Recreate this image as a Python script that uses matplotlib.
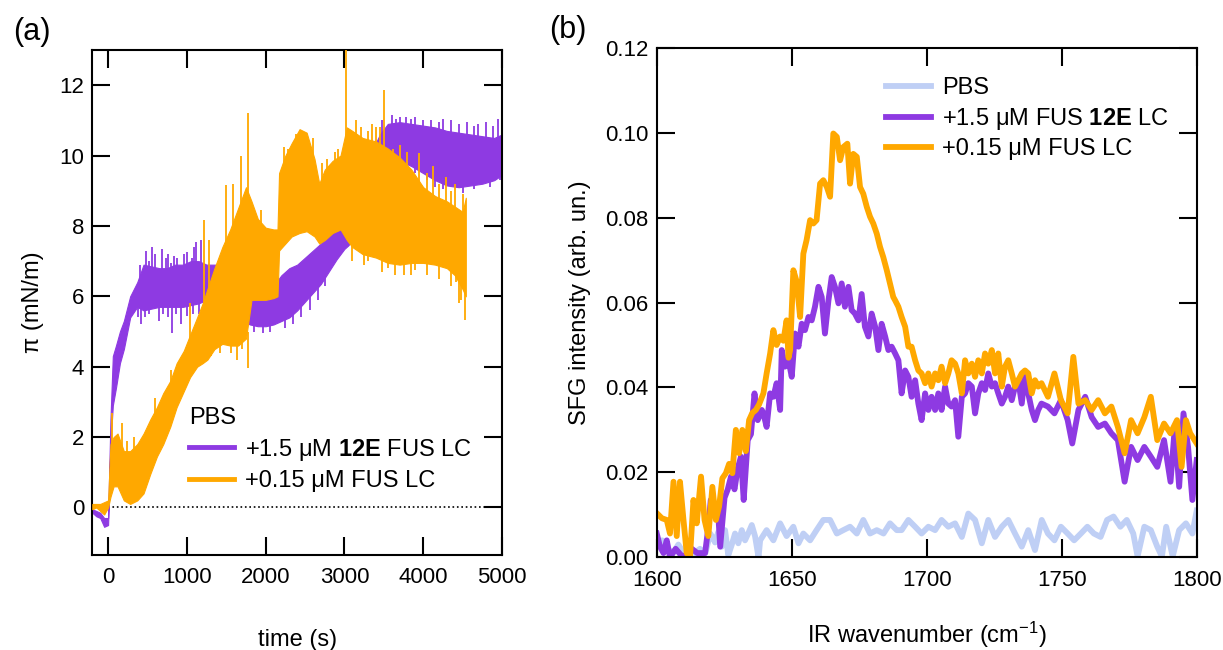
import numpy as np
import matplotlib
matplotlib.use("Agg")
import matplotlib.pyplot as plt

plt.rcParams["font.family"] = ["Liberation Sans", "DejaVu Sans"]
plt.rcParams["mathtext.fontset"] = "custom"
plt.rcParams["mathtext.rm"] = "Liberation Sans"
plt.rcParams["mathtext.bf"] = "Liberation Sans:bold"
plt.rcParams["mathtext.it"] = "Liberation Sans:italic"

PURPLE = "#8E3AE2"
ORANGE = "#FFA800"
LIGHTBLUE = "#BFCFF5"

# ---- panel (a): surface pressure vs time, noisy traces as (low, high) envelopes ----
t_purple = [-200, -150, -100, -50, 0, 30, 60, 100, 150, 200, 280, 370, 450, 550, 650, 750,
            850, 950, 1050, 1150, 1250, 1400, 1500, 1600, 1700, 1800, 1900, 2000, 2100, 2200,
            2300, 2400, 2500, 2600, 2700, 2800, 2900, 3000, 3050, 3150, 3300, 3450, 3550, 3700,
            3850, 4000, 4150, 4300, 4450, 4600, 4750, 4900, 5000]
lo_purple = [-0.15, -0.25, -0.3, -0.55, -0.5, 1.8, 2.9, 3.4, 4.1, 4.5, 5.4, 5.7, 5.6, 5.65, 5.7, 5.7,
             5.7, 5.7, 5.75, 5.8, 5.9, 5.8, 5.7, 5.5, 5.3, 5.2, 5.15, 5.15, 5.2, 5.3,
             5.4, 5.6, 5.85, 6.1, 6.35, 6.7, 7.05, 7.35, 7.45, 7.8, 8.6, 9.5, 9.8, 9.85,
             9.7, 9.5, 9.3, 9.15, 9.1, 9.15, 9.2, 9.3, 9.45]
hi_purple = [-0.05, -0.1, -0.15, -0.3, -0.3, 2.5, 4.3, 4.6, 5.0, 5.3, 6.0, 6.4, 6.9, 6.85, 6.8, 6.8,
             6.9, 6.9, 7.0, 7.0, 6.9, 6.9, 6.6, 6.3, 6.1, 6.1, 6.2, 6.2, 6.3, 6.6,
             6.8, 6.9, 7.1, 7.3, 7.5, 7.8, 8.1, 8.3, 8.4, 9.0, 9.9, 10.6, 10.9, 10.95,
             10.9, 10.85, 10.8, 10.7, 10.65, 10.6, 10.55, 10.5, 10.6]

t_orange = [-200, -150, -100, -50, 0, 30, 70, 120, 200, 280, 370, 450, 535, 620, 700, 790,
            870, 960, 1040, 1130, 1200, 1260, 1350, 1450, 1550, 1650, 1750, 1820, 1900, 2000,
            2100, 2150, 2170, 2250, 2330, 2430, 2520, 2620, 2680, 2750, 2850, 2950, 3030, 3100,
            3230, 3400, 3550, 3700, 3850, 4000, 4150, 4300, 4400, 4500, 4540]
lo_orange = [-0.05, 0.0, -0.1, -0.2, 0.0, 0.3, 0.6, 0.6, 0.2, 0.1, 0.2, 0.4, 0.95, 1.45, 1.8, 2.3,
             2.85, 3.3, 3.7, 4.0, 4.1, 4.2, 4.5, 4.65, 4.6, 4.6, 4.8, 5.9, 5.9, 5.9,
             5.95, 6.0, 7.3, 7.5, 7.7, 7.8, 7.85, 7.7, 7.5, 7.6, 7.8, 7.9, 7.6, 7.4,
             7.2, 7.1, 6.95, 6.9, 6.95, 6.95, 6.9, 6.8, 6.6, 6.2, 6.0]
hi_orange = [0.1, 0.1, 0.1, 0.15, 0.2, 1.8, 2.0, 2.1, 1.6, 1.6, 1.8, 2.1, 2.5, 2.85, 3.25, 3.6,
             4.1, 4.45, 4.9, 5.4, 5.8, 6.2, 6.8, 7.4, 7.9, 8.5, 9.1, 8.7, 8.2, 7.95,
             7.9, 7.9, 9.5, 10.0, 10.35, 10.75, 10.65, 9.9, 9.2, 9.6, 9.85, 10.0, 10.8, 10.7,
             10.5, 10.4, 10.2, 9.95, 9.6, 9.1, 8.85, 8.7, 8.55, 8.4, 8.8]

# isolated excursions of the noisy traces (time, start, end)
spike_t_purple = [380, 400, 420, 470, 480, 520, 520, 560, 600, 640, 690, 700, 730, 760, 760, 800,
                  810, 840, 860, 880, 920, 960, 1000, 1000, 1060, 1080, 1090, 1120, 1150, 1180,
                  1850, 1960, 2050, 2250, 2350, 2450, 2560, 2660, 2750,
                  3480, 3600, 3600, 3650, 3700, 3750, 3780, 3850, 3900, 3900, 4000, 4050, 4100,
                  4150, 4200, 4250, 4250, 4350, 4450, 4500, 4550, 4650, 4650, 4700, 4800, 4850,
                  4880, 4950, 4980]
spike_from_purple = [6.0, 6.2, 6.0, 6.0, 6.0, 6.2, 6.0, 6.0, 6.2, 6.0, 6.0, 6.0, 6.2, 6.0, 6.0,
                     6.2, 6.0, 6.2, 6.0, 6.0, 6.0, 6.2, 6.0, 6.0, 6.2, 6.0, 6.2, 6.0, 6.0, 6.0,
                     6.0, 5.5, 5.5, 6.0, 6.0, 6.2, 6.4, 6.7, 7.0,
                     10.5, 10.5, 10.0, 10.5, 10.5, 10.0, 10.5, 10.5, 10.0, 10.5, 10.5, 10.0, 10.4,
                     10.0, 10.4, 10.0, 10.4, 10.3, 10.3, 10.0, 10.3, 10.0, 10.3, 10.3, 10.2, 10.0,
                     10.2, 10.2, 10.0]
spike_to_purple = [5.4, 6.9, 5.2, 5.4, 7.3, 7.0, 5.5, 7.4, 7.2, 5.3, 7.35, 5.5, 7.1, 7.2, 5.4,
                   6.95, 4.95, 7.15, 5.5, 7.1, 5.2, 7.2, 7.25, 5.45, 7.1, 5.5, 7.4, 7.55, 5.5, 7.6,
                   5.0, 4.95, 5.0, 5.1, 5.2, 5.4, 5.6, 5.9, 6.3,
                   11.0, 11.15, 9.6, 11.05, 11.1, 9.65, 11.1, 11.05, 9.5, 11.1, 11.0, 9.3, 11.0,
                   9.1, 10.95, 9.05, 11.05, 11.0, 10.9, 8.95, 10.95, 9.05, 10.85, 10.9, 10.95, 9.1,
                   10.85, 11.05, 9.3]

spike_t_orange = [50, 180, 240, 330, 600, 800, 1040, 1220, 1280, 1300, 1420, 1500, 1560, 1590,
                  1640, 1690, 1700, 1770, 1780, 1935, 2230, 2280, 2380, 2600, 2720, 2780, 2880,
                  2920, 3025, 3100, 3150, 3215, 3250, 3300, 3300, 3350, 3400, 3450, 3480, 3500,
                  3550, 3620, 3640, 3700, 3760, 3800, 3850, 3900, 3950, 4050, 4050, 4130, 4200,
                  4200, 4290, 4350, 4350, 4400, 4420, 4460, 4480, 4500, 4530]
spike_from_orange = [1.0, 1.0, 1.0, 1.0, 2.0, 3.0, 4.5, 5.0, 5.0, 5.0, 5.5, 6.5, 5.0, 6.5,
                     5.0, 7.0, 5.5, 7.0, 5.0, 7.0, 8.5, 9.0, 9.0, 9.0, 9.0, 9.0, 9.0,
                     9.0, 9.0, 7.5, 9.0, 9.0, 7.5, 9.0, 7.5, 9.0, 9.0, 9.0, 7.5, 9.0,
                     7.5, 9.0, 7.5, 9.0, 7.5, 9.0, 7.5, 7.5, 8.5, 8.5, 7.5, 8.0, 8.0,
                     7.5, 8.0, 8.0, 7.3, 8.0, 7.2, 7.0, 7.0, 8.0, 7.0]
spike_to_orange = [2.68, 2.4, 1.9, 2.0, 3.1, 3.9, 5.8, 8.16, 7.6, 4.3, 4.4, 9.16, 4.38, 9.2,
                   4.2, 10.0, 4.5, 11.2, 3.96, 8.45, 10.24, 10.2, 10.6, 10.5, 9.8, 9.9, 10.1,
                   10.2, 13.0, 7.0, 11.0, 10.8, 6.9, 10.7, 7.0, 10.9, 10.8, 10.8, 6.7, 11.86,
                   6.8, 10.2, 6.6, 10.3, 6.6, 10.1, 6.6, 6.75, 10.06, 9.5, 6.6, 9.7, 9.2,
                   6.5, 9.4, 9.0, 6.3, 9.2, 6.4, 5.8, 5.9, 8.9, 5.32]

# ---- panel (b): SFG spectra ----
wn_orange = [1600, 1601.9, 1603.7, 1604.9, 1606.2, 1607.4, 1608.6, 1609.9, 1611.1, 1612.3, 1613.6,
             1614.8, 1616.4, 1617.7, 1619.1, 1620.6, 1621.9, 1623.1, 1624.3, 1625.6, 1626.8, 1628,
             1629.3, 1630.5, 1631.7, 1633, 1634.2, 1635.4, 1636.7, 1637.9, 1639.5, 1640.7, 1642,
             1643.2, 1644.4, 1645.7, 1646.9, 1648.1, 1648.8, 1649.4, 1650.6, 1651.8, 1653.1,
             1654.3, 1655.5, 1656.8, 1658, 1659.2, 1660.5, 1661.7, 1663, 1664.2, 1665.4, 1666.7,
             1667.9, 1669.1, 1670.6, 1671.6, 1672.8, 1674.1, 1675.3, 1676.5, 1677.8, 1679,
             1680.2, 1681.5, 1682.7, 1683.9, 1685.2, 1686.4, 1687.6, 1688.3, 1689.5, 1690.7,
             1692, 1693.2, 1694.4, 1695.7, 1696.9, 1698.1, 1699.4, 1700.6, 1701.8, 1703.1,
             1704.3, 1705.5, 1706.8, 1708, 1709.2, 1710.5, 1711.7, 1713, 1714.2, 1715.4, 1716.7,
             1717.9, 1719.1, 1720.4, 1721.6, 1722.8, 1724.1, 1725.3, 1726.5, 1727.8, 1729,
             1730.2, 1731.5, 1732.7, 1733.9, 1735.2, 1736.4, 1737.6, 1738.9, 1740.1, 1741.3,
             1742.5, 1744.9, 1747.3, 1749.7, 1752.2, 1754.3, 1756.2, 1758.7, 1761.1, 1763.5,
             1766, 1768.4, 1770.8, 1773.3, 1775.7, 1778.1, 1780.6, 1783, 1785.4, 1787.9, 1790.3,
             1792.7, 1794.4, 1796, 1797.6, 1800]
sfg_orange = [0.0104, 0.0092, 0.0088, 0.0056, 0.0178, 0.005, 0.0178, 0.0088, 0.001, 0.0, 0.0135,
              0.008, 0.019, 0.0088, 0.005, 0.0166, 0.0088, 0.012, 0.0186, 0.0198, 0.022, 0.0198,
              0.030, 0.0245, 0.030, 0.025, 0.0323, 0.034, 0.0347, 0.036, 0.0386, 0.0433, 0.048,
              0.0535, 0.050, 0.052, 0.051, 0.0558, 0.047, 0.0488, 0.0676, 0.065, 0.0566,
              0.0715, 0.0747, 0.0794, 0.0786, 0.0794, 0.088, 0.0888, 0.0872, 0.0849, 0.0998, 0.099,
              0.0935, 0.0966, 0.0974, 0.088, 0.095, 0.0943, 0.0872, 0.0856, 0.0825, 0.0802,
              0.0786, 0.0762, 0.0731, 0.0707, 0.0676, 0.0645, 0.0613, 0.0605, 0.059, 0.0566,
              0.0543, 0.0496, 0.0496, 0.0464, 0.044, 0.0433, 0.041, 0.0433, 0.0402, 0.0433,
              0.0417, 0.0449, 0.041, 0.0433, 0.0464, 0.0456, 0.0433, 0.0386, 0.0464, 0.0433, 0.0456,
              0.0425, 0.0464, 0.0433, 0.048, 0.0456, 0.0488, 0.0433, 0.048, 0.0402, 0.0449,
              0.0464, 0.0433, 0.0402, 0.0417, 0.0433, 0.044, 0.0433, 0.0386, 0.0417, 0.0402,
              0.041, 0.0378, 0.0433, 0.037, 0.0339, 0.0472, 0.0362, 0.037, 0.0347, 0.037,
              0.0339, 0.0355, 0.0307, 0.0245, 0.0323, 0.0292, 0.033, 0.0378, 0.0276, 0.0315, 0.0292,
              0.0323, 0.0213, 0.0323, 0.0292, 0.0268]

wn_purple = [1600, 1601.2, 1602.5, 1603.7, 1604.9, 1607, 1609, 1611.7, 1613, 1615, 1617.9, 1619.1,
             1620, 1621.4, 1622.6, 1623.5, 1625.1, 1626.3, 1627.5, 1628.8, 1630, 1631.2, 1632.2,
             1633.7, 1634.9, 1636.2, 1637.4, 1638.9, 1639.5, 1640.7, 1642, 1643.2, 1644.4,
             1645.7, 1646.3, 1647.5, 1648.8, 1650, 1651.2, 1652.5, 1653.7, 1654.9, 1656.2,
             1657.4, 1658.6, 1659.9, 1661.1, 1662.3, 1663.6, 1664.8, 1666, 1667.3, 1668.5,
             1669.7, 1671, 1672.2, 1673.4, 1674.7, 1675.9, 1677.1, 1678.4, 1679.6, 1680.9,
             1682.1, 1683.3, 1684.6, 1685.8, 1687, 1688.3, 1689.5, 1690.7, 1692, 1693.2, 1694.4,
             1695.7, 1696.9, 1698.1, 1699.4, 1700.6, 1701.8, 1703.1, 1704.3, 1705.5, 1706.8,
             1708, 1709.2, 1710.5, 1711.7, 1713, 1714.2, 1715.4, 1716.7, 1717.9, 1719.1, 1720.4,
             1721.6, 1722.8, 1724.1, 1725.3, 1726.5, 1727.8, 1729, 1730.2, 1731.5, 1732.7,
             1733.9, 1735.2, 1736.4, 1737.6, 1738.9, 1740.1, 1741.3, 1742.5, 1744.9, 1747.3,
             1749.7, 1752.2, 1753.9, 1756.2, 1758.7, 1761.1, 1763.5, 1766, 1768.4, 1770.8,
             1773.3, 1775.7, 1778.1, 1780.6, 1783, 1785.4, 1787.9, 1790.3, 1791.9, 1793.5,
             1795.1, 1796.8, 1798.4, 1800]
sfg_purple = [0.0056, 0.0025, 0.001, 0.004, 0.0, 0.002, 0.0005, 0.0, 0.002, 0.001, 0.001, 0.007,
              0.0135, 0.010, 0.012, 0.0025, 0.014, 0.016, 0.019, 0.016, 0.021, 0.0237, 0.0135,
              0.0276, 0.029, 0.0386, 0.0323, 0.0347, 0.0339, 0.0307, 0.0386, 0.0378, 0.041,
              0.0347, 0.0488, 0.0449, 0.0464, 0.0425, 0.0527, 0.0496, 0.055, 0.0535, 0.0566,
              0.0558, 0.059, 0.0637, 0.0613, 0.0527, 0.0605, 0.066, 0.0637, 0.0598, 0.0645,
              0.059, 0.0637, 0.0582, 0.0574, 0.0558, 0.062, 0.0543, 0.052, 0.0574, 0.0543,
              0.0488, 0.055, 0.052, 0.0488, 0.0496, 0.048, 0.0464, 0.0386, 0.044, 0.0425, 0.0378,
              0.0417, 0.0362, 0.0323, 0.0386, 0.0347, 0.0378, 0.0347, 0.0386, 0.0347, 0.0402,
              0.0362, 0.0355, 0.037, 0.0284, 0.0378, 0.0386, 0.041, 0.0402, 0.0339, 0.0386, 0.041,
              0.0394, 0.0433, 0.0402, 0.041, 0.0386, 0.0362, 0.0378, 0.0402, 0.037, 0.0402,
              0.0417, 0.0362, 0.0433, 0.0386, 0.0347, 0.0323, 0.0347, 0.0362, 0.0355, 0.0339,
              0.037, 0.0323, 0.0268, 0.0347, 0.0378, 0.033, 0.0307, 0.0315, 0.0292, 0.0276,
              0.0178, 0.026, 0.0229, 0.026, 0.0237, 0.0213, 0.0276, 0.0178, 0.0307, 0.0166,
              0.0339, 0.026, 0.0135, 0.0229]

wn_pbs = [1600, 1602, 1604, 1606, 1608, 1610, 1612, 1614, 1616, 1618, 1619.8, 1620.4, 1621.6,
          1622.8, 1624.1, 1625.3, 1626.5, 1627.8, 1629, 1630.2, 1631.5, 1632.7, 1634, 1635.2,
          1636.4, 1637.7, 1638.3, 1640.7, 1643.2, 1645.7, 1648.1, 1650.6, 1652.5, 1654.3,
          1656.8, 1659.2, 1661.7, 1664.2, 1666.7, 1669.1, 1671.6, 1674.1, 1676.5, 1679, 1681.5,
          1684, 1686.4, 1688.9, 1690.7, 1693.2, 1695.7, 1698.1, 1700.6, 1703.1, 1705.5, 1708,
          1710.5, 1713, 1715.4, 1717.9, 1720.4, 1722.8, 1725.3, 1727.8, 1730.2, 1732.7, 1735.2,
          1737.6, 1740.1, 1742.6, 1744.9, 1747.3, 1749.7, 1752.2, 1754.6, 1757.1, 1759.5,
          1761.9, 1764.4, 1766.8, 1769.2, 1771.7, 1774.1, 1776.5, 1778.1, 1780.6, 1783, 1785.4,
          1787.1, 1788.7, 1791.1, 1793.5, 1796, 1798.4, 1800]
sfg_pbs = [0.003, 0.004, 0.002, 0.001, 0.003, 0.001, 0.002, 0.001, 0.002, 0.001, 0.0056, 0.005,
           0.0035, 0.006, 0.0025, 0.0064, 0.0005, 0.003, 0.0056, 0.0033, 0.0064, 0.004, 0.0058,
           0.0076, 0.005, 0.0, 0.004, 0.0064, 0.004, 0.008, 0.005, 0.0072, 0.0033, 0.0056,
           0.004, 0.0064, 0.0088, 0.0088, 0.0056, 0.0064, 0.0072, 0.0056, 0.0088, 0.0056, 0.0064,
           0.0056, 0.008, 0.0064, 0.0064, 0.0088, 0.0072, 0.0056, 0.0072, 0.0064, 0.0088, 0.0072,
           0.008, 0.0048, 0.0103, 0.0088, 0.0033, 0.0088, 0.0048, 0.0072, 0.0088, 0.0056, 0.0025,
           0.0064, 0.0017, 0.0088, 0.0056, 0.004, 0.0072, 0.0056, 0.004, 0.0056, 0.0072,
           0.0056, 0.0048, 0.0088, 0.0096, 0.0072, 0.0088, 0.0056, 0.0002, 0.0072, 0.0064, 0.0025,
           0.0002, 0.0072, 0.0002, 0.0064, 0.008, 0.0056, 0.011]

label_12e_a = r"+1.5 μM $\mathbf{12E}$ FUS LC"
label_12e_b = r"+1.5 μM FUS $\mathbf{12E}$ LC"
label_fus = "+0.15 μM FUS LC"

fig = plt.figure(figsize=(12.23, 6.5), dpi=100)
ax_a = fig.add_axes([0.0755, 0.1462, 0.335, 0.7769])
ax_b = fig.add_axes([0.537, 0.1426, 0.4415, 0.784])

for ax in (ax_a, ax_b):
    for sp in ax.spines.values():
        sp.set_linewidth(1.5)
    ax.tick_params(direction="in", length=13, width=1.5, top=True, right=True,
                   labelsize=16)
    ax.tick_params(axis="x", pad=9)
    ax.tick_params(axis="y", pad=6)

# panel (a)
ax_a.hlines(0, 0, 5000, colors="black", linestyles=":", linewidth=1.2, zorder=1)
ax_a.fill_between(t_purple, lo_purple, hi_purple, color=PURPLE, lw=0.8, zorder=2)
ax_a.vlines(spike_t_purple, spike_from_purple, spike_to_purple, colors=PURPLE, lw=1.3, zorder=2)
ax_a.fill_between(t_orange, lo_orange, hi_orange, color=ORANGE, lw=0.8, zorder=3)
ax_a.vlines(spike_t_orange, spike_from_orange, spike_to_orange, colors=ORANGE, lw=1.3, zorder=3)
ax_a.set_xlim(-200, 5000)
ax_a.set_ylim(-1.35, 13)
ax_a.set_xticks([0, 1000, 2000, 3000, 4000, 5000])
ax_a.set_yticks([0, 2, 4, 6, 8, 10, 12])
ax_a.set_xlabel("time (s)", fontsize=17)
ax_a.set_ylabel("π (mN/m)", fontsize=17)
ax_a.xaxis.set_label_coords(0.5, -0.147)
ax_a.yaxis.set_label_coords(-0.118, 0.5)

h1, = ax_a.plot([], [], color=PURPLE, lw=3.5)
h2, = ax_a.plot([], [], color=ORANGE, lw=3.5)
ax_a.legend([h1, h2], [label_12e_a, label_fus], title="PBS", loc="upper left",
            bbox_to_anchor=(0.236, 0.293), frameon=False, fontsize=17,
            title_fontsize=17, alignment="left", borderpad=0, borderaxespad=0,
            handlelength=1.9, handletextpad=0.45, labelspacing=0.32)

# panel (b)
ax_b.plot(wn_pbs, sfg_pbs, color=LIGHTBLUE, lw=4.2, label="PBS")
ax_b.plot(wn_purple, sfg_purple, color=PURPLE, lw=4.2, label=label_12e_b)
ax_b.plot(wn_orange, sfg_orange, color=ORANGE, lw=4.2, label=label_fus)
ax_b.set_xlim(1600, 1800)
ax_b.set_ylim(0, 0.12)
ax_b.set_xticks([1600, 1650, 1700, 1750, 1800])
ax_b.set_yticks([0.0, 0.02, 0.04, 0.06, 0.08, 0.10, 0.12])
ax_b.yaxis.set_major_formatter(plt.FormatStrFormatter("%.2f"))
ax_b.set_xlabel("IR wavenumber (cm$^{-1}$)", fontsize=17)
ax_b.set_ylabel("SFG intensity (arb. un.)", fontsize=17)
ax_b.xaxis.set_label_coords(0.5, -0.122)
ax_b.yaxis.set_label_coords(-0.122, 0.5)
ax_b.legend(loc="upper left", bbox_to_anchor=(0.425, 0.942), frameon=False, fontsize=17,
            borderpad=0, borderaxespad=0, handlelength=1.9, handletextpad=0.45,
            labelspacing=0.28)

fig.text(0.026, 0.951, "(a)", fontsize=22, ha="center", va="center")
fig.text(0.4644, 0.954, "(b)", fontsize=22, ha="center", va="center")

fig.savefig("out.png", dpi=100)
